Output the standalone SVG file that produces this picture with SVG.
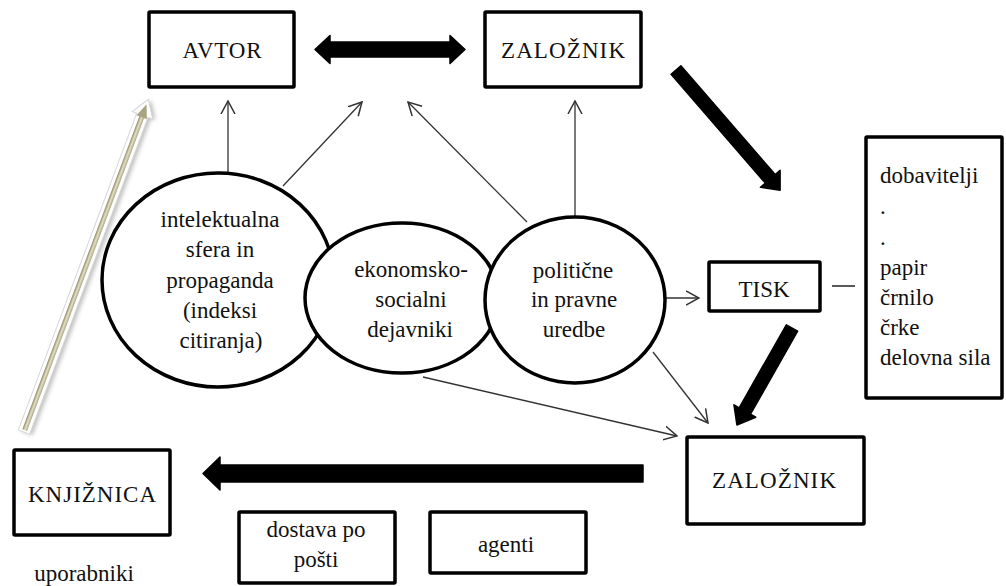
<svg xmlns="http://www.w3.org/2000/svg" width="1006" height="586" viewBox="0 0 1006 586">
<style>
.box{fill:#fff;stroke:#000;stroke-width:3.5}
.circ{fill:#fff;stroke:#000;stroke-width:3.5}
text{font-family:'Liberation Serif','DejaVu Serif','Times New Roman',serif;font-size:23px;fill:#111}
.c{text-anchor:middle}
.thin{fill:none;stroke:#333;stroke-width:1.3}
.blk{fill:#000;stroke:#000;stroke-width:1.5;stroke-linejoin:round}
</style>
<defs>
<marker id="open" viewBox="0 0 14 16" refX="13" refY="8" markerWidth="14" markerHeight="16" markerUnits="userSpaceOnUse" orient="auto">
<path d="M0,1 L13,8 L0,15" fill="none" stroke="#333" stroke-width="1.5"/>
</marker>
<linearGradient id="gold" x1="0" y1="0" x2="0" y2="1">
<stop offset="0" stop-color="#8d8864"/>
<stop offset="0.5" stop-color="#e4e0c6"/>
<stop offset="1" stop-color="#aaa583"/>
</linearGradient>
<filter id="blur" x="-10%" y="-50%" width="120%" height="200%">
<feGaussianBlur stdDeviation="2"/>
</filter>
</defs>
<rect width="1006" height="586" fill="#fff"/>

<g id="connectors">
<path class="thin" d="M228,173 L228,101" marker-end="url(#open)"/>
<path class="thin" d="M283,186 L362,102" marker-end="url(#open)"/>
<path class="thin" d="M527,222 L408,102" marker-end="url(#open)"/>
<path class="thin" d="M575,217 L575,101" marker-end="url(#open)"/>
<path class="thin" d="M665,298 L699,298" marker-end="url(#open)"/>
<path class="thin" d="M653,352 L708,423" marker-end="url(#open)"/>
<path class="thin" d="M423,377 L677,436" marker-end="url(#open)"/>
<path d="M832,286 H855" stroke="#222" stroke-width="1.5"/>
<polygon class="blk" points="315,49.5 330,35.5 330,42 450,42 450,35.5 465,49.5 450,63.5 450,57 330,57 330,63.5"/>
<polygon class="blk" transform="translate(676,70) rotate(49.1)" points="0,-6.5 144,-6.5 144,-13 159,0 144,13 144,6.5 0,6.5"/>
<polygon class="blk" transform="translate(792,328) rotate(119.6)" points="0,-6.5 95.5,-6.5 95.5,-12.5 111.5,0 95.5,12.5 95.5,6.5 0,6.5"/>
<polygon class="blk" points="643,465 220,465 220,457 203,473.5 220,490 220,482 643,482"/>
<g transform="translate(24,432) rotate(-69.5)">
<polygon points="0,-6 338,-6 338,-11 355,0 338,11 338,6 0,6" fill="#888" opacity="0.55" filter="url(#blur)" transform="translate(0,3)"/>
<polygon points="0,-6 338,-6 338,-11 355,0 338,11 338,6 0,6" fill="#fff" stroke="#d8d8d8" stroke-width="1"/>
<rect x="2" y="-2.5" width="338" height="5" fill="url(#gold)"/>
<polygon points="336,-5.5 350,0 336,5.5" fill="#a9a482"/>
</g>
</g>

<g id="avtor">
<rect class="box" x="149" y="12" width="145" height="75" rx="1"/>
<text class="c" x="222" y="58" textLength="79">AVTOR</text>
</g>
<g id="zaloznik-top">
<rect class="box" x="485" y="12" width="156" height="75" rx="1"/>
<text class="c" x="563" y="58" textLength="124">ZALOŽNIK</text>
</g>
<g id="intelektualna">
<ellipse class="circ" cx="218" cy="280" rx="116" ry="107"/>
<text class="c" x="220" y="227">intelektualna</text>
<text class="c" x="220" y="257">sfera in</text>
<text class="c" x="220" y="288">propaganda</text>
<text class="c" x="220" y="318">(indeksi</text>
<text class="c" x="221" y="348">citiranja)</text>
</g>
<g id="ekonomsko">
<ellipse class="circ" cx="402" cy="298" rx="97" ry="75"/>
<text class="c" x="411" y="277">ekonomsko-</text>
<text class="c" x="411" y="307">socialni</text>
<text class="c" x="410" y="337">dejavniki</text>
</g>
<g id="politicne">
<ellipse class="circ" cx="575" cy="300" rx="90" ry="83"/>
<text class="c" x="573" y="278">politične</text>
<text class="c" x="574" y="307">in pravne</text>
<text class="c" x="574" y="337">uredbe</text>
</g>
<g id="tisk">
<rect class="box" x="709" y="262" width="111" height="49" rx="1"/>
<text class="c" x="764" y="297">TISK</text>
</g>
<g id="dobavitelji">
<rect class="box" x="866" y="137" width="136" height="261" rx="1"/>
<text x="880" y="183">dobavitelji</text>
<text x="880" y="214">.</text>
<text x="880" y="245">.</text>
<text x="880" y="275">papir</text>
<text x="880" y="305">črnilo</text>
<text x="880" y="335">črke</text>
<text x="880" y="365">delovna sila</text>
</g>
<g id="zaloznik-bottom">
<rect class="box" x="687" y="437" width="177" height="87" rx="1"/>
<text class="c" x="774" y="488" textLength="124">ZALOŽNIK</text>
</g>
<g id="knjiznica">
<rect class="box" x="14" y="450" width="156" height="85" rx="1"/>
<text class="c" x="92" y="502" textLength="128">KNJIŽNICA</text>
<text class="c" x="84" y="581">uporabniki</text>
</g>
<g id="dostava">
<rect class="box" x="239" y="512" width="156" height="71" rx="1"/>
<text class="c" x="316" y="537">dostava po</text>
<text class="c" x="316" y="567">pošti</text>
</g>
<g id="agenti">
<rect class="box" x="430" y="512" width="156" height="61" rx="1"/>
<text class="c" x="506" y="552">agenti</text>
</g>
</svg>
